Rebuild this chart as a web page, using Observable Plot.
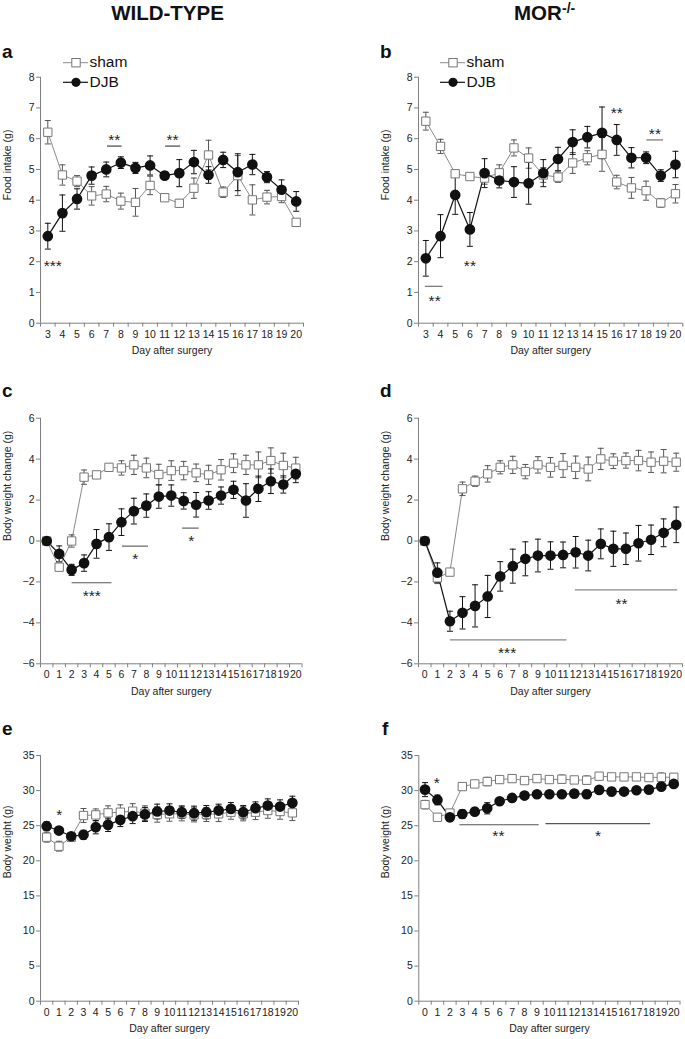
<!DOCTYPE html>
<html><head><meta charset="utf-8">
<script src="https://cdn.jsdelivr.net/npm/d3@7"></script>
<script src="https://cdn.jsdelivr.net/npm/@observablehq/plot@0.6"></script>
<style>
body{margin:0;background:#fff;}
#fig{position:relative;width:685px;height:1039px;font-family:"Liberation Sans",Arial,sans-serif;overflow:hidden;background:#fff;}
#fig > div{position:absolute;}
#overlay{position:absolute;left:0;top:0;pointer-events:none;}
</style></head><body><div id="fig"></div>
<script>
// ---------- data ----------
const daysFood = d3.range(3, 21);     // tick labels panels a, b
const daysWeight = d3.range(0, 21);   // tick labels panels c-f

const shamA = [6.21,4.82,4.62,4.14,4.2,3.97,3.93,4.48,4.08,3.9,4.39,5.47,4.26,4.8,4.01,4.1,4.12,3.28];
const shamSemA = [0.38,0.33,0.18,0.3,0.25,0.26,0.45,0.3,0.1,0.12,0.33,0.48,0.17,0.65,0.49,0.22,0.2,0.1];
const djbA = [2.83,3.58,4.04,4.8,5.0,5.22,5.05,5.13,4.8,4.88,5.24,4.82,5.31,4.91,5.16,4.75,4.34,3.96];
const djbSemA = [0.42,0.59,0.33,0.28,0.24,0.19,0.18,0.31,0.12,0.44,0.38,0.27,0.25,0.6,0.33,0.18,0.32,0.32];

const shamB = [6.57,5.75,4.86,4.77,4.72,4.89,5.7,5.37,4.82,4.75,5.21,5.38,5.49,4.59,4.4,4.31,3.91,4.21];
const shamSemB = [0.29,0.23,0.08,0.05,0.2,0.26,0.26,0.33,0.24,0.17,0.34,0.23,0.55,0.22,0.34,0.31,0.14,0.3];
const djbB = [2.11,2.83,4.17,3.05,4.88,4.64,4.59,4.55,4.88,5.34,5.89,6.05,6.19,5.96,5.38,5.38,4.8,5.16];
const djbSemB = [0.58,0.7,0.63,0.55,0.47,0.24,0.5,0.68,0.44,0.38,0.4,0.35,0.84,0.5,0.33,0.19,0.19,0.43];

const shamC = [0,-1.28,0,3.12,3.23,3.6,3.57,3.72,3.57,3.25,3.44,3.44,3.33,3.23,3.48,3.8,3.72,3.72,3.93,3.69,3.56];
const shamSemC = [0,0.15,0.3,0.35,0.08,0.15,0.35,0.47,0.48,0.5,0.48,0.45,0.43,0.47,0.5,0.46,0.47,0.63,0.62,0.6,0.53];
const djbC = [0,-0.63,-1.41,-1.08,-0.14,0.19,0.92,1.46,1.73,2.17,2.22,1.96,1.77,1.98,2.22,2.5,1.98,2.55,2.92,2.76,3.28];
const djbSemC = [0,0.39,0.27,0.4,0.7,0.65,0.65,0.63,0.57,0.57,0.52,0.4,0.6,0.43,0.42,0.42,0.82,0.62,0.6,0.42,0.43];

const shamD = [0,-1.8,-1.52,2.55,2.92,3.28,3.6,3.72,3.39,3.72,3.6,3.69,3.6,3.52,4.01,3.9,3.93,3.93,3.85,3.9,3.85];
const shamSemD = [0,0.28,0.05,0.33,0.25,0.4,0.32,0.42,0.35,0.4,0.48,0.58,0.55,0.58,0.52,0.36,0.37,0.5,0.5,0.57,0.44];
const djbD = [0,-1.55,-3.92,-3.51,-3.17,-2.71,-1.73,-1.23,-0.87,-0.71,-0.71,-0.68,-0.55,-0.71,-0.14,-0.38,-0.38,-0.11,0.06,0.4,0.79];
const djbSemD = [0,0.48,0.49,0.79,1.03,1.03,0.72,0.83,0.83,0.8,0.67,0.63,0.77,0.75,0.73,0.86,0.77,0.87,0.72,0.68,0.87];

const shamE = [23.36,22.08,23.36,26.45,26.54,26.83,26.92,27.07,26.78,26.6,26.69,26.69,26.54,26.6,26.69,26.92,26.69,26.92,27.16,27.02,26.83];
const shamSemE = [0.7,0.7,0.5,1.0,0.85,1.0,1.05,1.07,1.05,1.1,1.05,1.0,1.0,1.0,1.1,1.0,1.0,1.05,1.1,1.1,1.1];
const djbE = [24.93,24.31,23.5,23.7,24.79,25.12,25.83,26.35,26.6,27.02,27.16,26.92,26.78,26.92,27.16,27.4,26.92,27.49,27.87,27.73,28.25];
const djbSemE = [0.6,0.4,0.4,0.65,0.95,0.95,0.95,1.05,1.0,1.05,0.95,0.9,1.0,0.95,0.9,0.9,0.95,0.9,0.95,0.95,0.95];

const shamF = [28.0,26.2,26.8,30.57,30.95,31.29,31.57,31.71,31.43,31.71,31.57,31.62,31.52,31.48,32.05,31.95,31.95,31.95,31.86,31.9,31.9];
const shamSemF = [0.6,0.3,0.5,0.3,0.5,0.6,0.5,0.5,0.2,0.5,0.4,0.6,0.4,0.6,0.3,0.2,0.2,0.2,0.3,0.6,0.5];
const djbF = [30.14,28.67,26.2,26.67,27.0,27.48,28.48,28.95,29.29,29.48,29.48,29.48,29.57,29.48,30.1,29.86,29.86,30.05,30.14,30.57,30.95];
const djbSemF = [1.0,0.7,0.6,0.6,0.5,0.8,0.3,0.4,0.3,0.3,0.3,0.3,0.3,0.6,0.4,0.6,0.5,0.4,0.3,0.4,0.4];

// significance bars (day range, value) and stars (day, value)
const barsA = [{x1:7.05,x2:8.05,y:5.76},{x1:11.03,x2:12.06,y:5.76}];
const starsA = [{x:7.55,y:6.1,t:"**"},{x:11.53,y:6.1,t:"**"},{x:3.34,y:1.98,t:"***"}];
const barsB = [{x1:2.93,x2:4.14,y:1.2},{x1:18.02,x2:19.16,y:5.96}];
const starsB = [{x:3.6,y:0.85,t:"**"},{x:6.0,y:1.98,t:"**"},{x:16.0,y:6.97,t:"**"},{x:18.6,y:6.29,t:"**"}];
const barsC = [{x1:2.0,x2:5.2,y:-2.04},{x1:6.04,x2:8.13,y:-0.25},{x1:10.87,x2:12.2,y:0.63}];
const starsC = [{x:3.62,y:-2.5,t:"***"},{x:7.11,y:-0.7,t:"*"},{x:11.6,y:0.18,t:"*"}];
const barsD = [{x1:1.99,x2:11.27,y:-4.83},{x1:11.94,x2:20.08,y:-2.39}];
const starsD = [{x:6.55,y:-5.27,t:"***"},{x:15.65,y:-2.86,t:"**"}];
const barsE = [];
const starsE = [{x:1.03,y:27.1,t:"*"}];
const barsF = [{x1:2.77,x2:9.14,y:25.14},{x1:9.68,x2:18.1,y:25.3}];
const starsF = [{x:0.94,y:31.6,t:"*"},{x:5.9,y:24.1,t:"**"},{x:13.9,y:24.1,t:"*"}];

const foodTicks = d3.range(0, 9);
const changeTicks = d3.range(-6, 7, 2);
const weightTicks = d3.range(0, 36, 5);

// ---------- drawing ----------
const fig = document.getElementById("fig");
const AX = "#808080", TXT = "#222", SHAM = "#8a8a8a", DJB = "#111";
const capSymbol = {draw(ctx, size){ const w = Math.sqrt(size/Math.PI); ctx.moveTo(-w,0); ctx.lineTo(w,0); }};
const rows = (days, m, s) => days.map((d,i)=>({day:d, v:m[i], lo:m[i]-s[i], hi:m[i]+s[i]}));

function panel(cfg){
  const [L,T,W,H] = cfg.box;
  const [x0,x1] = cfg.xr, [yt,yb] = cfg.yr;
  const days = cfg.days;
  const sham = rows(days, cfg.sham, cfg.shamSem);
  const djb = rows(days, cfg.djb, cfg.djbSem);
  const half = d3.range(days[0]-0.5, days[days.length-1]+1, 1);
  const caps = (data) => data.flatMap(d => [{day:d.day, y:d.lo},{day:d.day, y:d.hi}]);
  const chart = Plot.plot({
    width: W, height: H,
    marginLeft: x0-L, marginRight: L+W-x1, marginTop: yt-T, marginBottom: T+H-yb,
    style: {background:"transparent", overflow:"visible", fontFamily:'"Liberation Sans", Arial, sans-serif'},
    x: {domain:[days[0]-0.5, days[days.length-1]+0.5]},
    y: {domain: cfg.yDomain},
    marks: [
      Plot.ruleY([cfg.yDomain[0]], {stroke:AX, strokeWidth:1}),
      Plot.ruleX([days[0]-0.5], {stroke:AX, strokeWidth:1}),
      Plot.axisY({ticks: cfg.yTicks, tickSize:4, tickPadding:2, fontSize:10.5, stroke:AX, fill:TXT, label:null}),
      Plot.axisX({ticks: half, tickSize:4, tickFormat:()=>"", stroke:AX, label:null}),
      Plot.axisX({ticks: days, tickSize:0, tickPadding:7, fontSize:10.5, fill:TXT, label:null, tickFormat:d=>String(d)}),
      Plot.text([cfg.ylabel], {text:d=>d, frameAnchor:"left", dx:-33, rotate:-90, fontSize:10.5, fill:TXT}),
      Plot.text(["Day after surgery"], {text:d=>d, frameAnchor:"bottom", dy:31, fontSize:10.5, fill:TXT}),
      Plot.link(cfg.bars, {x1:"x1", x2:"x2", y1:"y", y2:"y", stroke:cfg.barColor, strokeWidth:1.1}),
      Plot.text(cfg.stars, {x:"x", y:"y", text:"t", fontSize:15.5, fill:TXT, dy:4}),
      Plot.line(sham, {x:"day", y:"v", stroke:SHAM, strokeWidth:1}),
      Plot.ruleX(sham, {x:"day", y1:"lo", y2:"hi", stroke:"#555", strokeWidth:1}),
      Plot.dot(caps(sham), {x:"day", y:"y", symbol:capSymbol, r:3, stroke:"#555", fill:"none", strokeWidth:1}),
      Plot.line(djb, {x:"day", y:"v", stroke:DJB, strokeWidth:1.2}),
      Plot.ruleX(djb, {x:"day", y1:"lo", y2:"hi", stroke:DJB, strokeWidth:1}),
      Plot.dot(caps(djb), {x:"day", y:"y", symbol:capSymbol, r:3, stroke:DJB, fill:"none", strokeWidth:1}),
      Plot.dot(sham, {x:"day", y:"v", symbol:"square", r:4.7, fill:"white", stroke:"#777", strokeWidth:1}),
      Plot.dot(djb, {x:"day", y:"v", symbol:"circle", r:4.6, fill:DJB, stroke:DJB})
    ]
  });
  const div = document.createElement("div");
  div.style.left = L + "px"; div.style.top = T + "px";
  div.appendChild(chart);
  fig.appendChild(div);
}

panel({box:[0,40,320,330], xr:[40,303], yr:[76.7,322.7], days:daysFood, yDomain:[0,8], yTicks:foodTicks,
  sham:shamA, shamSem:shamSemA, djb:djbA, djbSem:djbSemA, ylabel:"Food intake (g)", bars:barsA, stars:starsA, barColor:"#333"});
panel({box:[340,40,345,330], xr:[418,682.3], yr:[76.7,322.7], days:daysFood, yDomain:[0,8], yTicks:foodTicks,
  sham:shamB, shamSem:shamSemB, djb:djbB, djbSem:djbSemB, ylabel:"Food intake (g)", bars:barsB, stars:starsB, barColor:"#666"});
panel({box:[0,370,320,335], xr:[40,301.5], yr:[417.7,663.3], days:daysWeight, yDomain:[-6,6], yTicks:changeTicks,
  sham:shamC, shamSem:shamSemC, djb:djbC, djbSem:djbSemC, ylabel:"Body weight change (g)", bars:barsC, stars:starsC, barColor:"#555"});
panel({box:[340,370,345,335], xr:[418,682], yr:[417.7,663.3], days:daysWeight, yDomain:[-6,6], yTicks:changeTicks,
  sham:shamD, shamSem:shamSemD, djb:djbD, djbSem:djbSemD, ylabel:"Body weight change (g)", bars:barsD, stars:starsD, barColor:"#888"});
panel({box:[0,705,320,334], xr:[40,298], yr:[755,1000.7], days:daysWeight, yDomain:[0,35], yTicks:weightTicks,
  sham:shamE, shamSem:shamSemE, djb:djbE, djbSem:djbSemE, ylabel:"Body weight (g)", bars:barsE, stars:starsE, barColor:"#555"});
panel({box:[340,705,345,334], xr:[418.3,679.5], yr:[755,1000.7], days:daysWeight, yDomain:[0,35], yTicks:weightTicks,
  sham:shamF, shamSem:shamSemF, djb:djbF, djbSem:djbSemF, ylabel:"Body weight (g)", bars:barsF, stars:starsF, barColor:"#555"});

// ---------- titles, panel letters, legends ----------
const svg = d3.select(fig).append("svg").attr("id","overlay").attr("width",685).attr("height",1039)
  .style("font-family",'"Liberation Sans", Arial, sans-serif');
svg.append("text").attr("x",167.5).attr("y",20).attr("text-anchor","middle").attr("font-weight","bold")
  .attr("font-size",20.5).attr("fill","#111").text("WILD-TYPE");
svg.append("text").attr("x",514).attr("y",20).attr("font-weight","bold").attr("font-size",20.5).attr("fill","#111").text("MOR");
svg.append("text").attr("x",562).attr("y",13).attr("font-weight","bold").attr("font-size",14).attr("fill","#111").text("-/-");
const letters = [["a",2,58],["b",380,58],["c",2,397],["d",380,397],["e",2,735],["f",382,735]];
letters.forEach(([t,x,y]) => svg.append("text").attr("x",x).attr("y",y).attr("font-weight","bold")
  .attr("font-size",19).attr("fill","#111").text(t));
function legend(x){
  const g = svg.append("g");
  g.append("line").attr("x1",x).attr("x2",x+25).attr("y1",62.7).attr("y2",62.7).attr("stroke",SHAM);
  g.append("rect").attr("x",x+13-4.2).attr("y",62.7-4.2).attr("width",8.4).attr("height",8.4).attr("fill","white").attr("stroke","#777");
  g.append("text").attr("x",x+26.5).attr("y",66.7).attr("font-size",15.5).attr("fill","#111").text("sham");
  g.append("line").attr("x1",x).attr("x2",x+25).attr("y1",82.3).attr("y2",82.3).attr("stroke",DJB).attr("stroke-width",1.2);
  g.append("circle").attr("cx",x+13).attr("cy",82.3).attr("r",4.6).attr("fill",DJB);
  g.append("text").attr("x",x+26.5).attr("y",86.9).attr("font-size",15.5).attr("fill","#111").text("DJB");
}
legend(63); legend(440);
</script></body></html>
